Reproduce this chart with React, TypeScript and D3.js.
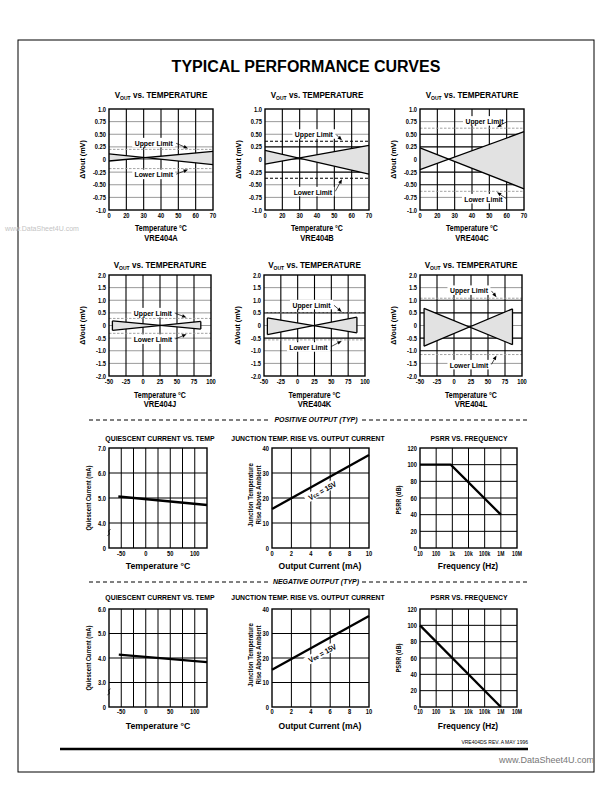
import React from 'react';
import * as d3 from 'd3';

const FONT = "'Liberation Sans', Arial, Helvetica, sans-serif";

// ---------------- data ----------------
const pageTitle = 'TYPICAL PERFORMANCE CURVES';
const gradeNames = ['VRE404A', 'VRE404B', 'VRE404C', 'VRE404J', 'VRE404K', 'VRE404L'];
const narrowTempLabels = ['0', '20', '30', '40', '50', '60', '70'];
const wideTempTicks = [-50, -25, 0, 25, 50, 75, 100];
const voutTicksNarrow = [1.0, 0.75, 0.5, 0.25, 0, -0.25, -0.5, -0.75, -1.0];
const voutLabelsNarrow = ['1.0', '0.75', '0.50', '0.25', '0', '-0.25', '-0.50', '-0.75', '-1.0'];
const voutTicksWide = [2.0, 1.5, 1.0, 0.5, 0, -0.5, -1.0, -1.5, -2.0];
const voutLabelsWide = ['2.0', '1.5', '1.0', '0.5', '0', '-0.5', '-1.0', '-1.5', '-2.0'];

// error-box endpoints (narrow panels: tick index, wide panels: deg C)
const gradeXStart = [0, 0, 0, -45, -45, -44];
const gradeXEnd = [6, 6, 6, 85, 88, 86];
const fallStart = [0.11, 0.18, 0.23, 0.18, 0.3, 0.68];
const fallEnd = [-0.1, -0.29, -0.58, -0.14, -0.29, -0.76];
const riseStart = [-0.03, -0.09, -0.2, -0.19, -0.36, -0.82];
const riseEnd = [0.16, 0.28, 0.55, 0.16, 0.33, 0.66];
const upperLimit = [0.2, 0.36, 0.62, 0.28, 0.5, 1.08];
const lowerLimit = [-0.18, -0.37, -0.63, -0.31, -0.57, -1.15];
const limitDark = [false, true, false, false, false, false];
// annotation placement: [fraction of width, value]
const upperLabelAt = [[0.43, 0.33], [0.47, 0.5], [0.62, 0.76], [0.43, 0.5], [0.47, 0.82], [0.48, 1.39]];
const lowerLabelAt = [[0.43, -0.3], [0.46, -0.64], [0.61, -0.78], [0.43, -0.55], [0.44, -0.86], [0.48, -1.56]];
const arrowTipFrac = [0.76, 0.74, 0.74, 0.76, 0.77, 0.75];

// quiescent current
const qGridTemps = [-50, -25, 0, 25, 50, 75, 100];
const qTempLabels = [-50, 0, 50, 100];
const qPosTickVals = [3, 4, 5, 6, 7];
const qPosTickLabels = ['0', '4.0', '5.0', '6.0', '7.0'];
const qNegTickVals = [2, 3, 4, 5, 6];
const qNegTickLabels = ['0', '3.0', '4.0', '5.0', '6.0'];
const qPosTemp = [-56, 125];
const qPosCurrent = [5.06, 4.72];
const qNegTemp = [-55, 125];
const qNegCurrent = [4.14, 3.83];

// junction temperature rise
const jtCurrentTicks = [0, 2, 4, 6, 8, 10];
const jtRiseTicks = [0, 10, 20, 30, 40];
const jtCurrent = [0, 10];
const jtRisePos = [15.6, 37.2];
const jtRiseNeg = [15.2, 37.1];

// PSRR
const freqTicks = [10, 100, 1e3, 1e4, 1e5, 1e6, 1e7];
const freqLabels = ['10', '100', '1k', '10k', '100k', '1M', '10M'];
const psrrTicks = [0, 20, 40, 60, 80, 100, 120];
const psrrPosFreq = [10, 800, 1e6];
const psrrPosDb = [100, 100, 40];
const psrrNegFreq = [10, 1e6];
const psrrNegDb = [100, 0];

// ---------------- helpers ----------------
type TP = {
  x: number; y: number; s: number; w?: any; a?: 'start' | 'middle' | 'end';
  sx?: number; r?: number; fill?: string; it?: boolean; children?: any;
};
function Txt({ x, y, s, w = 'bold', a = 'middle', sx = 1, r = 0, fill = '#000', it = false, children }: TP) {
  const tr = `translate(${x},${y})${r ? ` rotate(${r})` : ''}${sx !== 1 ? ` scale(${sx},1)` : ''}`;
  return (
    <text transform={tr} fontSize={s} fontWeight={w} textAnchor={a} fill={fill}
      fontStyle={it ? 'italic' : 'normal'} fontFamily={FONT}>{children}</text>
  );
}

const TICK = 7;
const TICKSX = 0.82;

const L1 = { top: 109, bot: 210, titleY: 98, tickY: 217.5, axisY: 230.5, nameY: 240.5 };
const L2 = { top: 275, bot: 376, titleY: 268, tickY: 384, axisY: 397.5, nameY: 407 };
const voutX = [[109, 213], [265, 369], [420, 524], [109, 211], [264, 365], [420, 522]];

function Arrow({ x1, y1, x2, y2 }: any) {
  const ang = Math.atan2(y2 - y1, x2 - x1);
  const L = 4.5, W = 1.8;
  const bx = x2 - L * Math.cos(ang), by = y2 - L * Math.sin(ang);
  const p1 = [bx + W * Math.sin(ang), by - W * Math.cos(ang)];
  const p2 = [bx - W * Math.sin(ang), by + W * Math.cos(ang)];
  return (
    <g>
      <line x1={x1} y1={y1} x2={bx} y2={by} stroke="#000" strokeWidth={0.7} />
      <polygon points={`${x2},${y2} ${p1[0]},${p1[1]} ${p2[0]},${p2[1]}`} fill="#000" />
    </g>
  );
}

function VoutPanel({ k }: { k: number }) {
  const row = k < 3 ? L1 : L2;
  const [x0, x1] = voutX[k];
  const wide = k >= 3;
  const x = wide
    ? d3.scaleLinear().domain([-50, 100]).range([x0, x1])
    : d3.scaleLinear().domain([0, narrowTempLabels.length - 1]).range([x0, x1]);
  const yTicks = wide ? voutTicksWide : voutTicksNarrow;
  const yLabels = wide ? voutLabelsWide : voutLabelsNarrow;
  const y = d3.scaleLinear().domain([yTicks[yTicks.length - 1], yTicks[0]]).range([row.bot, row.top]);
  const xTickPos = wide ? wideTempTicks.map((t) => x(t)) : narrowTempLabels.map((_, i) => x(i));
  const xTickText = wide ? wideTempTicks.map(String) : narrowTempLabels;
  const xs = gradeXStart[k], xe = gradeXEnd[k];
  const fall: [number, number][] = [[xs, fallStart[k]], [xe, fallEnd[k]]];
  const rise: [number, number][] = [[xs, riseStart[k]], [xe, riseEnd[k]]];
  const line = d3.line<[number, number]>().x((d) => x(d[0])).y((d) => y(d[1]));
  const poly = line([fall[0], fall[1], rise[1], rise[0]]) + 'Z';
  const lim = Math.max(Math.abs(upperLimit[k]), Math.abs(lowerLimit[k]));
  const cx = (x0 + x1) / 2;
  const w = x1 - x0;
  const limColor = limitDark[k] ? '#000' : '#999';
  const ann = [
    { t: 'Upper  Limit', at: upperLabelAt[k], lv: upperLimit[k] },
    { t: 'Lower  Limit', at: lowerLabelAt[k], lv: lowerLimit[k] },
  ];
  return (
    <g>
      <Txt x={cx} y={row.titleY} s={9} sx={0.9}>
        V<tspan fontSize={5.6} dy={1.5}>OUT</tspan><tspan dy={-1.5}> vs. TEMPERATURE</tspan>
      </Txt>
      {yTicks.slice(1, -1).map((v, i) => (
        <line key={'h' + i} x1={x0} x2={x1} y1={y(v)} y2={y(v)}
          stroke={v !== 0 && Math.abs(v) < lim ? '#000' : '#9a9a9a'} strokeWidth={v !== 0 && Math.abs(v) < lim ? 1.1 : 1} />
      ))}
      {xTickPos.slice(1, -1).map((px, i) => (
        <line key={'v' + i} x1={px} x2={px} y1={row.top} y2={row.bot} stroke="#000" strokeWidth={1.1} />
      ))}
      <path d={poly} fill="#e2e2e2" stroke="none" />
      {[upperLimit[k], lowerLimit[k]].map((v, i) => (
        <line key={'l' + i} x1={x0} x2={x1} y1={y(v)} y2={y(v)} stroke={limColor}
          strokeWidth={limitDark[k] ? 1.1 : 0.9} strokeDasharray={limitDark[k] ? '3,2' : '2.5,1.5'} />
      ))}
      <path d={line(fall) || ''} fill="none" stroke="#000" strokeWidth={1.3} />
      <path d={line(rise) || ''} fill="none" stroke="#000" strokeWidth={1.3} />
      {wide && (
        <g>
          <line x1={x(xs)} x2={x(xs)} y1={y(fallStart[k])} y2={y(riseStart[k])} stroke="#000" strokeWidth={1.3} />
          <line x1={x(xe)} x2={x(xe)} y1={y(fallEnd[k])} y2={y(riseEnd[k])} stroke="#000" strokeWidth={1.3} />
        </g>
      )}
      {ann.map((a, i) => {
        const tx = x0 + a.at[0] * w;
        const ty = y(a.at[1]);
        const tipX = x0 + arrowTipFrac[k] * w;
        const tipY = y(a.lv);
        const hw = 19.5;
        return (
          <g key={'a' + i}>
            <rect x={tx - hw - 2} y={ty - 5} width={2 * hw + 4} height={9.5} fill="#fff" />
            <Txt x={tx} y={ty + 2.8} s={7.8} sx={0.88}>{a.t}</Txt>
            <Arrow x1={tx + hw + 3} y1={ty + (i === 0 ? 0.5 : -0.5)} x2={tipX} y2={tipY + (i === 0 ? -1 : 1)} />
          </g>
        );
      })}
      <rect x={x0} y={row.top} width={w} height={row.bot - row.top} fill="none" stroke="#000" strokeWidth={1.4} />
      {yTicks.map((v, i) => (
        <Txt key={'yt' + i} x={x0 - 3} y={y(v) + 2.5} s={TICK} sx={TICKSX} a="end">{yLabels[i]}</Txt>
      ))}
      {xTickPos.map((px, i) => (
        <Txt key={'xt' + i} x={px} y={row.tickY} s={TICK} sx={TICKSX}>{xTickText[i]}</Txt>
      ))}
      <Txt x={x0 - 24} y={(row.top + row.bot) / 2} s={8} sx={0.9} r={-90}>ΔVout  (mV)</Txt>
      <Txt x={cx} y={row.axisY} s={8.8} sx={0.8}>Temperature °C</Txt>
      <Txt x={cx} y={row.nameY} s={8.8} sx={0.86}>{gradeNames[k]}</Txt>
    </g>
  );
}

const R3 = { top: 448, bot: 548, titleY: 440.5, tickY: 556, axisY: 568.5 };
const R4 = { top: 609, bot: 707, titleY: 599.5, tickY: 714, axisY: 728.5 };

function Frame({ x0, x1, r }: any) {
  return <rect x={x0} y={r.top} width={x1 - x0} height={r.bot - r.top} fill="none" stroke="#000" strokeWidth={1.4} />;
}

function QuiescentPanel({ neg }: { neg: boolean }) {
  const r = neg ? R4 : R3;
  const x0 = 109, x1 = 207;
  const vals = neg ? qNegTickVals : qPosTickVals;
  const labs = neg ? qNegTickLabels : qPosTickLabels;
  const x = d3.scaleLinear().domain([-75, 125]).range([x0, x1]);
  const y = d3.scaleLinear().domain([vals[0], vals[vals.length - 1]]).range([r.bot, r.top]);
  const temps = neg ? qNegTemp : qPosTemp;
  const cur = neg ? qNegCurrent : qPosCurrent;
  const pts: [number, number][] = temps.map((t, i) => [t, cur[i]]);
  const line = d3.line<[number, number]>().x((d) => x(d[0])).y((d) => y(d[1]));
  const brY = y(vals[1] - 0.38);
  return (
    <g>
      <Txt x={160} y={r.titleY} s={7} sx={0.98}>QUIESCENT CURRENT VS. TEMP</Txt>
      {qGridTemps.map((t, i) => (
        <line key={i} x1={x(t)} x2={x(t)} y1={r.top} y2={r.bot} stroke="#000" strokeWidth={1} />
      ))}
      {vals.slice(1, -1).map((v, i) => (
        <line key={'h' + i} x1={x0} x2={x1} y1={y(v)} y2={y(v)} stroke="#000" strokeWidth={1} />
      ))}
      <path d={line(pts) || ''} fill="none" stroke="#000" strokeWidth={2.3} />
      <Frame x0={x0} x1={x1} r={r} />
      <path d={`M${x0 - 1.5},${brY + 3} q3,-1 1.5,-3 q-1.5,-2 1.5,-3`} fill="none" stroke="#000" strokeWidth={0.8} />
      {vals.map((v, i) => (
        <Txt key={'yt' + i} x={x0 - 3} y={y(v) + 2.5} s={TICK} sx={TICKSX} a="end">{labs[i]}</Txt>
      ))}
      {qTempLabels.map((t, i) => (
        <Txt key={'xt' + i} x={x(t)} y={r.tickY} s={TICK} sx={TICKSX}>{String(t)}</Txt>
      ))}
      <Txt x={90.5} y={(r.top + r.bot) / 2} s={7.2} sx={0.8} r={-90}>Quiescent  Current  (mA)</Txt>
      <Txt x={158} y={r.axisY} s={9.5} sx={0.92}>Temperature °C</Txt>
    </g>
  );
}

function JunctionPanel({ neg }: { neg: boolean }) {
  const r = neg ? R4 : R3;
  const x0 = 272, x1 = 369;
  const x = d3.scaleLinear().domain([0, 10]).range([x0, x1]);
  const y = d3.scaleLinear().domain([0, 40]).range([r.bot, r.top]);
  const rise = neg ? jtRiseNeg : jtRisePos;
  const pts: [number, number][] = jtCurrent.map((c, i) => [c, rise[i]]);
  const line = d3.line<[number, number]>().x((d) => x(d[0])).y((d) => y(d[1]));
  const ang = (Math.atan2(y(rise[1]) - y(rise[0]), x(10) - x(0)) * 180) / Math.PI;
  const lx = x(5.25), ly = y(neg ? 21.5 : 22.5);
  return (
    <g>
      <Txt x={308} y={r.titleY} s={7} sx={0.98}>JUNCTION TEMP. RISE VS. OUTPUT CURRENT</Txt>
      {jtCurrentTicks.slice(1, -1).map((t, i) => (
        <line key={i} x1={x(t)} x2={x(t)} y1={r.top} y2={r.bot} stroke="#000" strokeWidth={1} />
      ))}
      {jtRiseTicks.slice(1, -1).map((v, i) => (
        <line key={'h' + i} x1={x0} x2={x1} y1={y(v)} y2={y(v)} stroke="#000" strokeWidth={1} />
      ))}
      <path d={line(pts) || ''} fill="none" stroke="#000" strokeWidth={2.3} />
      <g transform={`translate(${lx},${ly}) rotate(${ang})`}>
        <rect x={-19} y={-6} width={38} height={8.5} fill="#fff" />
        <Txt x={0} y={1.5} s={7.5} sx={0.92}>
          V<tspan fontSize={6}>{neg ? 'ee' : 'cc'}</tspan>  =  15V
        </Txt>
      </g>
      <Frame x0={x0} x1={x1} r={r} />
      {jtRiseTicks.map((v, i) => (
        <Txt key={'yt' + i} x={x0 - 3} y={y(v) + 2.5} s={TICK} sx={TICKSX} a="end">{String(v)}</Txt>
      ))}
      {jtCurrentTicks.map((t, i) => (
        <Txt key={'xt' + i} x={x(t)} y={r.tickY} s={TICK} sx={TICKSX}>{String(t)}</Txt>
      ))}
      <Txt x={253} y={495 + (neg ? 160 : 0)} s={7.2} sx={0.85} r={-90}>Junction  Temperature</Txt>
      <Txt x={260.5} y={495 + (neg ? 160 : 0)} s={7.2} sx={0.85} r={-90}>Rise  Above  Ambient</Txt>
      <Txt x={320} y={r.axisY} s={9.5} sx={0.9}>Output Current (mA)</Txt>
    </g>
  );
}

function PsrrPanel({ neg }: { neg: boolean }) {
  const r = neg ? R4 : R3;
  const x0 = 420, x1 = 517;
  const x = d3.scaleLog().domain([10, 1e7]).range([x0, x1]);
  const y = d3.scaleLinear().domain([0, 120]).range([r.bot, r.top]);
  const fr = neg ? psrrNegFreq : psrrPosFreq;
  const db = neg ? psrrNegDb : psrrPosDb;
  const pts: [number, number][] = fr.map((f, i) => [f, db[i]]);
  const line = d3.line<[number, number]>().x((d) => x(d[0])).y((d) => y(d[1]));
  return (
    <g>
      <Txt x={469} y={r.titleY} s={7} sx={0.98}>PSRR VS. FREQUENCY</Txt>
      {freqTicks.slice(1, -1).map((t, i) => (
        <line key={i} x1={x(t)} x2={x(t)} y1={r.top} y2={r.bot} stroke="#000" strokeWidth={1} />
      ))}
      {psrrTicks.slice(1, -1).map((v, i) => (
        <line key={'h' + i} x1={x0} x2={x1} y1={y(v)} y2={y(v)} stroke="#000" strokeWidth={1} />
      ))}
      <path d={line(pts) || ''} fill="none" stroke="#000" strokeWidth={2.3} />
      <Frame x0={x0} x1={x1} r={r} />
      {psrrTicks.map((v, i) => (
        <Txt key={'yt' + i} x={x0 - 3} y={y(v) + 2.5} s={TICK} sx={TICKSX} a="end">{String(v)}</Txt>
      ))}
      {freqTicks.map((t, i) => (
        <Txt key={'xt' + i} x={x(t)} y={r.tickY} s={TICK} sx={0.72}>{freqLabels[i]}</Txt>
      ))}
      <Txt x={400.5} y={500 + (neg ? 158 : 0)} s={7.2} sx={0.8} r={-90}>PSRR  (dB)</Txt>
      <Txt x={468} y={r.axisY} s={9.5} sx={0.88}>Frequency (Hz)</Txt>
    </g>
  );
}

function Separator({ y, label }: { y: number; label: string }) {
  return (
    <g>
      <line x1={89} x2={528} y1={y} y2={y} stroke="#000" strokeWidth={1} strokeDasharray="4,3" />
      <rect x={270} y={y - 5} width={92} height={10} fill="#fff" />
      <Txt x={316} y={y + 2.4} s={7} it>{label}</Txt>
    </g>
  );
}

export default function App() {
  return (
    <svg width={612} height={792} viewBox="0 0 612 792"
      style={{ position: 'absolute', left: 0, top: 0, background: '#fff' }}>
      <rect x={0} y={0} width={612} height={792} fill="#fff" />
      <rect x={18} y={40} width={576} height={732} fill="none" stroke="#000" strokeWidth={1} />
      <Txt x={306} y={71.5} s={16}>{pageTitle}</Txt>
      {[0, 1, 2, 3, 4, 5].map((k) => <VoutPanel key={k} k={k} />)}
      <Separator y={420} label="POSITIVE OUTPUT (TYP)" />
      <QuiescentPanel neg={false} />
      <JunctionPanel neg={false} />
      <PsrrPanel neg={false} />
      <Separator y={582} label="NEGATIVE OUTPUT (TYP)" />
      <QuiescentPanel neg={true} />
      <JunctionPanel neg={true} />
      <PsrrPanel neg={true} />
      <line x1={60} x2={528} y1={749} y2={749} stroke="#000" strokeWidth={2.5} />
      <Txt x={528} y={744} s={5} w="normal" a="end">VRE404DS REV. A MAY 1996</Txt>
      <Txt x={594} y={763} s={9} w="normal" a="end" fill="#777">www.DataSheet4U.com</Txt>
      <Txt x={5} y={231} s={7} w="normal" a="start" fill="#c4c4c4">www.DataSheet4U.com</Txt>
    </svg>
  );
}
